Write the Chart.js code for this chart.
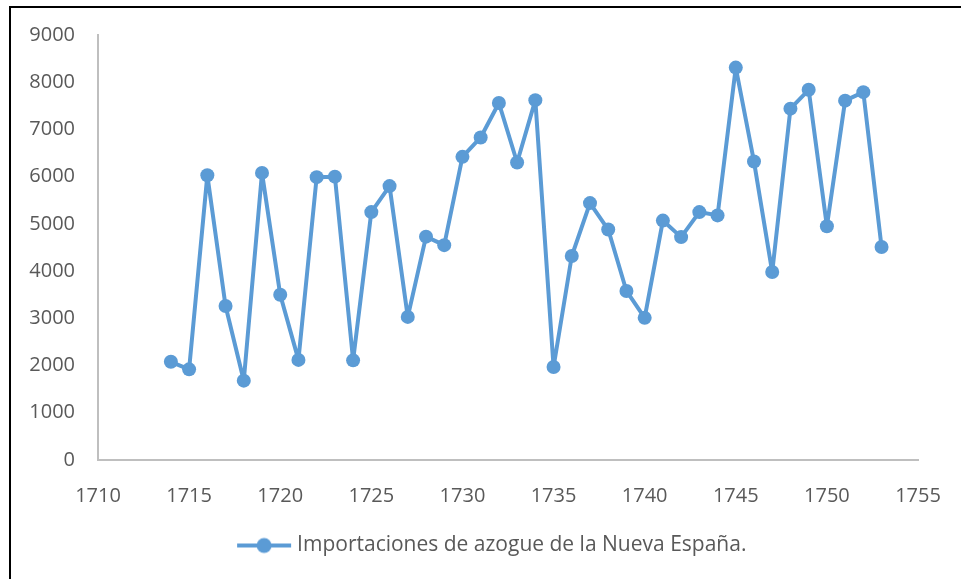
<!DOCTYPE html>
<html>
<head>
<meta charset="utf-8">
<script src="https://cdn.jsdelivr.net/npm/chart.js@4"></script>
<style>
  html, body { margin: 0; padding: 0; background: #fff; }
  #wrap { position: relative; width: 961px; height: 579px; overflow: hidden; }
  #frame { position: absolute; left: 9px; top: 6px; width: 1000px; height: 700px;
           border-left: 2px solid #000; border-top: 2px solid #000; box-sizing: border-box; }
  #cv { position: absolute; left: 0; top: 0; }
</style>
</head>
<body>
<div id="wrap">
  <div id="frame"></div>
  <canvas id="cv" width="961" height="579"></canvas>
</div>
<script>
// --- datos ---
const years = [1714, 1715, 1716, 1717, 1718, 1719, 1720, 1721, 1722, 1723,
               1724, 1725, 1726, 1727, 1728, 1729, 1730, 1731, 1732, 1733,
               1734, 1735, 1736, 1737, 1738, 1739, 1740, 1741, 1742, 1743,
               1744, 1745, 1746, 1747, 1748, 1749, 1750, 1751, 1752, 1753];
const azogue = [2080, 1920, 6030, 3260, 1680, 6080, 3500, 2120, 5990, 6000,
                2110, 5250, 5800, 3030, 4730, 4550, 6420, 6830, 7560, 6300,
                7620, 1970, 4320, 5440, 4880, 3580, 3010, 5070, 4720, 5250,
                5180, 8310, 6320, 3980, 7440, 7840, 4950, 7610, 7790, 4510];
const serieLabel = 'Importaciones de azogue de la Nueva España.';
const xTicks = [1710, 1715, 1720, 1725, 1730, 1735, 1740, 1745, 1750, 1755];
const yTicks = [0, 1000, 2000, 3000, 4000, 5000, 6000, 7000, 8000, 9000];

const azul = '#5B9BD5';
const gris = '#595959';
const fuente = { family: 'Open Sans', size: 20 };

// marcador de la leyenda: linea con circulo
function legendMarker() {
  const c = document.createElement('canvas');
  c.width = 56; c.height = 18;
  const g = c.getContext('2d');
  g.strokeStyle = azul; g.lineWidth = 4;
  g.beginPath(); g.moveTo(1, 9); g.lineTo(55, 9); g.stroke();
  g.fillStyle = azul;
  g.beginPath(); g.arc(28, 9, 7.5, 0, Math.PI * 2); g.fill();
  return c;
}
const marker = legendMarker();

// la leyenda va un poco a la derecha, como en el original
const moverLeyenda = {
  id: 'moverLeyenda',
  afterLayout(chart) {
    const lg = chart.legend;
    if (!lg) return;
    lg.left += 35;
    lg.right += 35;
    if (lg.adjustHitBoxes) lg.adjustHitBoxes();
  }
};

const ctx = document.getElementById('cv').getContext('2d');
new Chart(ctx, {
  type: 'line',
  data: {
    datasets: [{
      label: serieLabel,
      data: years.map((y, i) => ({ x: y, y: azogue[i] })),
      borderColor: azul,
      backgroundColor: azul,
      borderWidth: 4,
      borderJoinStyle: 'round',
      pointRadius: 7,
      pointBackgroundColor: azul,
      pointBorderWidth: 0,
      tension: 0
    }]
  },
  options: {
    responsive: false,
    animation: false,
    layout: { padding: { left: 0, right: 43, top: 35, bottom: 13 } },
    plugins: {
      tooltip: { enabled: false },
      legend: {
        position: 'bottom',
        labels: {
          color: gris,
          font: { family: 'Open Sans', size: 21 },
          usePointStyle: true,
          pointStyleWidth: 45,
          padding: 10,
          generateLabels: chart => [{
            text: serieLabel,
            pointStyle: marker,
            fillStyle: azul,
            strokeStyle: azul,
            lineWidth: 0,
            datasetIndex: 0,
            fontColor: gris
          }]
        }
      }
    },
    scales: {
      x: {
        type: 'linear',
        min: xTicks[0],
        max: xTicks[xTicks.length - 1],
        afterBuildTicks: s => { s.ticks = xTicks.map(v => ({ value: v })); },
        grid: { display: false },
        border: { display: true, color: '#BFBFBF', width: 2 },
        ticks: { color: gris, font: fuente, padding: 16, maxRotation: 0, callback: v => String(v) },
        afterFit: s => { s.height = 65; }
      },
      y: {
        min: yTicks[0],
        max: yTicks[yTicks.length - 1],
        afterBuildTicks: s => { s.ticks = yTicks.map(v => ({ value: v })); },
        grid: { display: false },
        border: { display: true, color: '#BFBFBF', width: 2 },
        ticks: { color: gris, font: fuente, padding: 15, callback: v => String(v) },
        afterFit: s => { s.width = 98; }
      }
    }
  },
  plugins: [moverLeyenda]
});
</script>
</body>
</html>
